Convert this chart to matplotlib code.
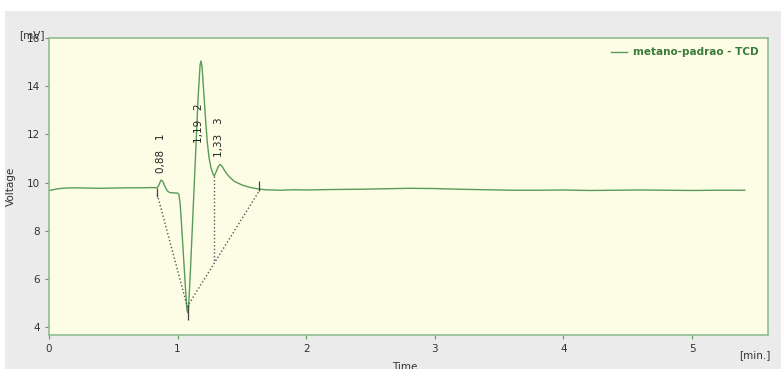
#!/usr/bin/env python3
# -*- coding:utf-8 -*-
from matplotlib import pyplot as plt
from matplotlib.patches import Rectangle

# chromatogram trace (time in min, signal in mV)
time_min = [0.00, 0.03, 0.07, 0.12, 0.20, 0.30, 0.40, 0.50, 0.60, 0.70, 0.80,
            0.84, 0.855, 0.87, 0.885, 0.90, 0.92, 0.94, 0.97, 1.00, 1.01,
            1.02, 1.03, 1.045, 1.06, 1.072, 1.078, 1.085, 1.10, 1.12, 1.14,
            1.16, 1.175, 1.182, 1.19, 1.20, 1.215, 1.23, 1.245, 1.26, 1.275,
            1.285, 1.30, 1.315, 1.33, 1.345, 1.37, 1.40, 1.44, 1.50, 1.56,
            1.62, 1.68, 1.80, 1.90, 2.00, 2.20, 2.40, 2.60, 2.80, 3.00, 3.20,
            3.40, 3.60, 3.80, 4.00, 4.20, 4.40, 4.60, 4.80, 5.00, 5.20, 5.41]
voltage_mv = [9.66, 9.70, 9.74, 9.77, 9.78, 9.77, 9.76, 9.77, 9.78, 9.78, 9.79,
              9.78, 9.90, 10.10, 10.05, 9.85, 9.65, 9.58, 9.57, 9.56, 9.50,
              9.10, 8.30, 7.00, 5.70, 4.75, 4.60, 4.80, 6.40, 8.80, 11.20,
              13.60, 14.90, 15.05, 14.80, 14.00, 12.80, 11.70, 11.00, 10.60, 10.35,
              10.27, 10.45, 10.65, 10.75, 10.68, 10.45, 10.25, 10.05, 9.90, 9.80,
              9.74, 9.70, 9.68, 9.70, 9.69, 9.71, 9.72, 9.74, 9.76, 9.75, 9.72,
              9.70, 9.68, 9.68, 9.69, 9.67, 9.68, 9.69, 9.68, 9.67, 9.68, 9.68]

# integration baseline and drop line
base_t = [0.842, 1.075, 1.635]
base_v = [9.50, 4.85, 9.66]
drop_t = 1.285
drop_v = [10.27, 6.68]
# peak start/end marks
mark_t = [0.842, 1.078, 1.635]
mark_lo = [9.40, 4.30, 9.66]
mark_hi = [9.78, 4.90, 10.08]

# peak labels
peak_rt = ["0,88", "1,19", "1,33"]
peak_id = ["1", "2", "3"]
label_t = [0.87, 1.17, 1.32]
label_v = [10.40, 11.64, 11.07]

green = "#5a9a5a"
spine = "#8fbf8f"
txt = "#333333"

fig = plt.figure(figsize=(7.81, 3.69), dpi=100)
fig.patch.set_facecolor("white")
fig.patches.append(Rectangle((5 / 781, 0), 1, 1 - 11 / 369, transform=fig.transFigure,
                             facecolor="#ebebeb", edgecolor="none", zorder=-1))

ax = fig.add_axes([49 / 781, 34 / 369, 719 / 781, 297 / 369])
ax.set_zorder(2)
ax.set_facecolor("#fdfde6")
ax.plot(time_min, voltage_mv, color=green, lw=1.0, label="metano-padrao - TCD")
ax.plot(base_t, base_v, color="#555555", lw=1.0, ls=(0, (1, 1.6)))
ax.plot([drop_t, drop_t], drop_v, color="#555555", lw=1.0, ls=(0, (1, 1.6)))
ax.vlines(mark_t, mark_lo, mark_hi, color="#444444", lw=0.9)

for t, v, rt, pid in zip(label_t, label_v, peak_rt, peak_id):
    ax.text(t, v, rt + "   " + pid, rotation=90, ha="center", va="bottom",
            fontsize=7.5, color="#222222")

ax.set_xlim(0, 5.59)
ax.set_ylim(3.67, 16)
ax.set_xticks([0, 1, 2, 3, 4, 5])
ax.set_yticks([4, 6, 8, 10, 12, 14, 16])
ax.tick_params(colors=green, labelcolor=txt, labelsize=7.5, length=3, width=0.8)
for s in ax.spines.values():
    s.set_color(spine)
    s.set_linewidth(1.2)

ax.set_ylabel("Voltage", fontsize=7.5, color=txt, labelpad=8)
fig.text(405 / 781, -3 / 369, "Time", fontsize=7.5, color=txt, ha="center", va="bottom")
fig.text(755 / 781, 14 / 369, "[min.]", fontsize=7.5, color=txt, ha="center", va="center")
fig.text(32 / 781, 334 / 369, "[mV]", fontsize=7.5, color=txt, ha="center", va="center")

leg = ax.legend(loc="upper right", frameon=False, fontsize=7.5, handlelength=1.5,
                handletextpad=0.6, borderaxespad=0.5)
for t in leg.get_texts():
    t.set_color("#3a7a3a")
    t.set_fontweight("bold")

fig.savefig("out.png", dpi=100)
